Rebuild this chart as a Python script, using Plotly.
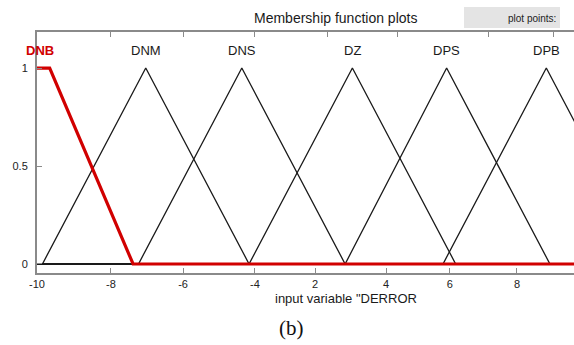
import plotly.graph_objects as go

# ---- data (input variable DERROR) ----
mf_names = ["DNB", "DNM", "DNS", "DZ", "DPS", "DPB"]
dnb_trap = [-10.0, -10.0, -9.65, -7.35]          # trapmf params
tri_params = {
    "DNM": [-9.85, -7.0, -4.15],
    "DNS": [-7.2, -4.35, -1.5],
    "DZ":  [-4.15, -1.3, 1.55],
    "DPS": [-1.5, 1.3, 4.15],
    "DPB": [1.2, 4.05, 6.9],
}
bottom_tick_vals = [-10, -7.96, -5.97, -3.99, -2.33, -0.37, 1.39, 3.24]
bottom_tick_text = ["-10", "-8", "-6", "-4", "2", "4", "6", "8"]
top_tick_vals = [-7.96, -5.97, -3.99, -1.98, -0.05, 2.46, 4.26]
y_tick_vals = [0, 0.5, 1]
y_tick_text = ["0", "0.5", "1"]

W, H = 574, 345
L, R, T, B = 37, 574, 32, 273
XMIN, XMAX = -10.0, -10.0 + (R - L) / 36.25
YMIN, YMAX = -0.046, 1.184

def px(x):
    return (x - L) / (R - L)

def py(y):
    return (B - y) / (B - T)

fig = go.Figure()

# black triangles (full range, zero outside)
for name in mf_names[1:]:
    a, b, c = tri_params[name]
    fig.add_trace(go.Scatter(
        x=[XMIN, a, b, c, XMAX + 3], y=[0, 0, 1, 0, 0],
        mode="lines", line=dict(color="#1a1a1a", width=1.3),
        hoverinfo="skip", showlegend=False))

# red selected trapezoid DNB
a, b, c, d = dnb_trap
fig.add_trace(go.Scatter(
    x=[a, c, d, XMAX + 3], y=[1, 1, 0, 0],
    mode="lines", line=dict(color="#d10000", width=3.2),
    hoverinfo="skip", showlegend=False))

# invisible trace to activate top axis
fig.add_trace(go.Scatter(x=[XMIN], y=[0], xaxis="x2", mode="markers",
                         marker=dict(opacity=0), hoverinfo="skip", showlegend=False))

# MF labels
label_x = {"DNB": -9.92}
for name in mf_names:
    xpos = label_x.get(name, tri_params.get(name, [0, 0, 0])[1])
    is_sel = name == "DNB"
    fig.add_annotation(
        x=xpos, y=1.09, xref="x", yref="y", text=f"<b>{name}</b>" if is_sel else name,
        showarrow=False, xanchor="center", yanchor="middle",
        font=dict(family="Liberation Sans, Arial", size=13,
                  color="#d10000" if is_sel else "#1a1a1a"))

axis_col = "#8a8a8a"
fig.update_layout(
    width=W, height=H,
    margin=dict(l=L, r=W - R, t=T, b=H - B, pad=0),
    paper_bgcolor="white", plot_bgcolor="white",
    xaxis=dict(range=[XMIN, XMAX], tickvals=bottom_tick_vals, ticktext=bottom_tick_text,
               ticks="inside", ticklen=5, tickcolor=axis_col, tickwidth=1,
               showline=True, linecolor=axis_col, linewidth=2,
               showgrid=False, zeroline=False,
               tickfont=dict(family="Liberation Sans, Arial", size=11, color="#222")),
    xaxis2=dict(range=[XMIN, XMAX], overlaying="x", side="top", tickvals=top_tick_vals,
                showticklabels=False, ticks="inside", ticklen=5, tickcolor=axis_col,
                showline=True, linecolor=axis_col, linewidth=2,
                showgrid=False, zeroline=False),
    yaxis=dict(range=[YMIN, YMAX], tickvals=y_tick_vals, ticktext=y_tick_text,
               ticks="inside", ticklen=5, tickcolor=axis_col, tickwidth=1,
               showline=True, linecolor=axis_col, linewidth=2,
               showgrid=False, zeroline=False, ticklabelstandoff=5,
               tickfont=dict(family="Liberation Sans, Arial", size=11, color="#222")),
    font=dict(family="Liberation Sans, Arial"),
)

# grey "plot points:" box
fig.add_shape(type="rect", xref="paper", yref="paper",
              x0=px(464), x1=px(560), y0=py(28), y1=py(7),
              fillcolor="#e4e4e4", line=dict(width=0), layer="below")
fig.add_annotation(x=px(558), y=py(19), xref="paper", yref="paper",
                   text="plot points:", showarrow=False, xanchor="right", yanchor="middle",
                   font=dict(family="Liberation Sans, Arial", size=10, color="#222"))

# title
fig.add_annotation(x=px(335), y=py(18), xref="paper", yref="paper",
                   text="Membership function plots", showarrow=False,
                   xanchor="center", yanchor="middle",
                   font=dict(family="Liberation Sans, Arial", size=14, color="#1a1a1a"))
# x-axis title
fig.add_annotation(x=px(346), y=py(298), xref="paper", yref="paper",
                   text='input variable "DERROR', showarrow=False,
                   xanchor="center", yanchor="middle",
                   font=dict(family="Liberation Sans, Arial", size=13, color="#1a1a1a"))
# caption
fig.add_annotation(x=px(291), y=py(328), xref="paper", yref="paper",
                   text="(b)", showarrow=False, xanchor="center", yanchor="middle",
                   font=dict(family="Liberation Serif, Times New Roman", size=21, color="#111"))

fig.write_html("out.html")
